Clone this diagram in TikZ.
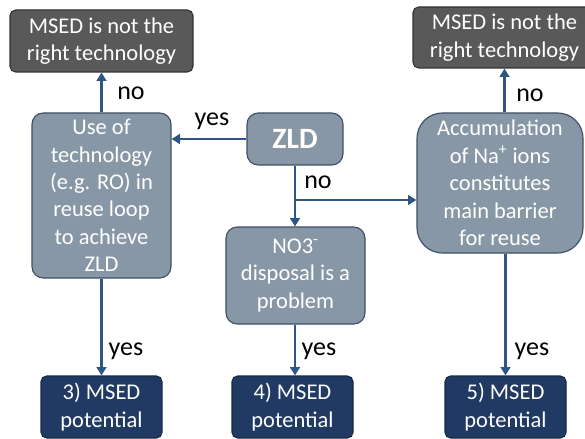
\documentclass[tikz,border=0pt]{standalone}
\usepackage{fontspec}
\setmainfont{Carlito}
\usetikzlibrary{arrows.meta}

\definecolor{darkbox}{HTML}{595959}
\definecolor{greybox}{HTML}{8797A6}
\definecolor{navybox}{HTML}{213A64}
\definecolor{edgeblue}{HTML}{3C4F66}
\definecolor{flowblue}{HTML}{2F5584}

\tikzset{
  box/.style={draw=edgeblue, line width=0.8pt, text=white, align=center,
    inner sep=0pt, font=\fontsize{16}{19.5}\selectfont},
  notbox/.style={box, fill=darkbox, draw=black!80, rounded corners=4pt},
  askbox/.style={box, fill=greybox, rounded corners=8pt},
  goodbox/.style={box, fill=navybox, draw=navybox!70!black, rounded corners=4pt},
  lbl/.style={font=\fontsize{18.5}{20}\selectfont, inner sep=0pt},
  flow/.style={->, draw=flowblue, line width=2pt},
}

\begin{document}
\begin{tikzpicture}[x=0.025cm, y=-0.025cm, >={Triangle[width=7pt,length=6pt]}]
    \useasboundingbox (0,0) rectangle (585,439);
    \clip (0,0) rectangle (585,439);

    % decision boxes
    \node[askbox, minimum width=139*0.025cm, minimum height=165*0.025cm] (reuse) at (101.5,195.5)
      {Use of\\technology\\(e.g. RO) in\\reuse loop\\to achieve\\ZLD};
    \node[askbox, minimum width=96*0.025cm, minimum height=52*0.025cm,
      font=\fontsize{21}{24}\selectfont\bfseries] (zld) at (295,139) {ZLD};
    \node[askbox, rounded corners=18pt, minimum width=166*0.025cm, minimum height=140*0.025cm] (accum) at (500,183)
      {Accumulation\\of Na\textsuperscript{+} ions\\constitutes\\main barrier\\for reuse};
    \node[askbox, minimum width=139*0.025cm, minimum height=97*0.025cm] (nitrate) at (295.5,275.5)
      {NO3\textsuperscript{-}\\disposal is a\\problem};

    % outcomes
    \node[notbox, minimum width=183*0.025cm, minimum height=62*0.025cm] (notleft) at (101.5,41)
      {MSED is not the\\right technology};
    \node[notbox, minimum width=183*0.025cm, minimum height=61*0.025cm] (notright) at (504.5,37.5)
      {MSED is not the\\right technology};
    \node[goodbox, minimum width=121*0.025cm, minimum height=62*0.025cm] (msedthree) at (101.5,407)
      {3) MSED\\potential};
    \node[goodbox, minimum width=121*0.025cm, minimum height=62*0.025cm] (msedfour) at (292.5,407)
      {4) MSED\\potential};
    \node[goodbox, minimum width=121*0.025cm, minimum height=62*0.025cm] (msedfive) at (505.5,407)
      {5) MSED\\potential};

    % connectors
    \coordinate (split) at (295,200);
    \draw[flow] (zld.west) -- (reuse.east |- zld.west);
    \draw[flow] (zld.south) -- (nitrate.north -| zld.south);
    \draw[flow] (split) -- (split -| accum.west);
    \draw[flow] (reuse.north) -- (notleft.south);
    \draw[flow] (accum.north -| notright.south) -- (notright.south);
    \draw[flow] (reuse.south) -- (msedthree.north);
    \draw[flow] (nitrate.south -| zld.south) -- (msedfour.north -| zld.south);
    \draw[flow] (accum.south -| msedfive.north) -- (msedfive.north);

    \node[lbl] (noleft) at (131,93) {no};
    \node[lbl] (yestop) at (212,121) {yes};
    \node[lbl] (nomid) at (318,182) {no};
    \node[lbl] (noright) at (530,95) {no};
    \node[lbl] (yesleft) at (126,351) {yes};
    \node[lbl] (yesmid) at (319,351) {yes};
    \node[lbl] (yesright) at (532,351) {yes};
\end{tikzpicture}
\end{document}
